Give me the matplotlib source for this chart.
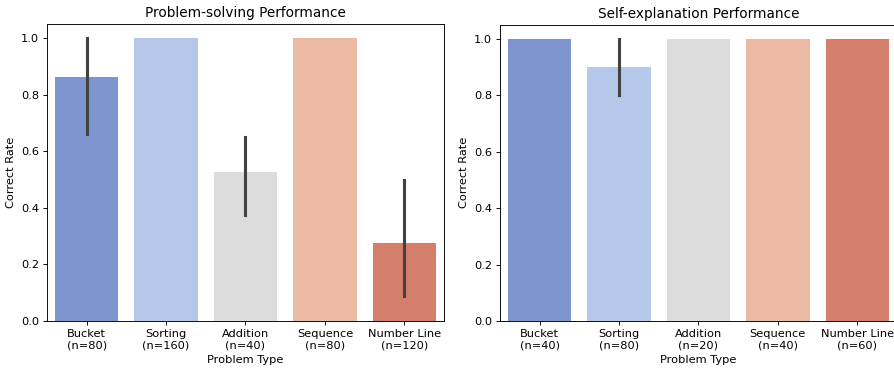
import matplotlib
matplotlib.use("Agg")
import matplotlib.pyplot as plt
import numpy as np

# Data
problem_types = ['Bucket', 'Sorting', 'Addition', 'Sequence', 'Number Line']

solve_n = [80, 160, 40, 80, 120]
solve_rate = [0.8625, 1.0, 0.525, 1.0, 0.275]
solve_ci_low = [0.66, 1.0, 0.375, 1.0, 0.09]
solve_ci_high = [1.0, 1.0, 0.65, 1.0, 0.50]

explain_n = [40, 80, 20, 40, 60]
explain_rate = [1.0, 0.9, 1.0, 1.0, 1.0]
explain_ci_low = [1.0, 0.8, 1.0, 1.0, 1.0]
explain_ci_high = [1.0, 1.0, 1.0, 1.0, 1.0]

# muted coolwarm palette
colors = ['#7f95d0', '#b5c8ea', '#dcdcdc', '#ecbaa4', '#d47f6b']

DPI = 82
fig = plt.figure(figsize=(894 / DPI, 371 / DPI), dpi=DPI)
ax1 = fig.add_axes([0.0526, 0.1348, 0.444, 0.8005])
ax2 = fig.add_axes([0.5593, 0.1348, 0.444, 0.7985])


def draw(ax, rates, lo, hi, ns, title):
    x = np.arange(len(problem_types))
    ax.bar(x, rates, width=0.8, color=colors)
    for xi, l, h in zip(x, lo, hi):
        if h > l:
            ax.plot([xi, xi], [l, h], color='.26', lw=2.7)
    ax.set_xlim(-0.5, len(x) - 0.5)
    ax.set_ylim(0, 1.05)
    ax.set_xticks(x)
    ax.set_xticklabels([f'{p}\n(n={n})' for p, n in zip(problem_types, ns)])
    ax.set_xlabel('Problem Type')
    ax.set_ylabel('Correct Rate')
    ax.set_title(title)


draw(ax1, solve_rate, solve_ci_low, solve_ci_high, solve_n, 'Problem-solving Performance')
draw(ax2, explain_rate, explain_ci_low, explain_ci_high, explain_n, 'Self-explanation Performance')

fig.savefig('out.png', dpi=DPI)
